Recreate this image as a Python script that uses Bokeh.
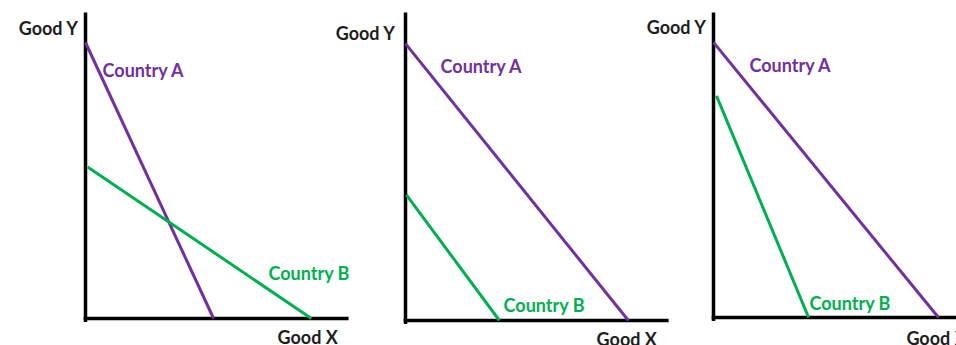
from bokeh.plotting import figure
from bokeh.models import Range1d
from bokeh.core.properties import value
from bokeh.embed import file_html
from bokeh.resources import INLINE

# ---- data (units, same scale in every panel) ----
panels = ["left", "middle", "right"]
a_y_intercept = [9.2, 9.23, 9.17]     # Country A: max Good Y
a_x_intercept = [4.27, 7.43, 7.5]     # Country A: max Good X
b_y_intercept = [5.1, 4.23, 7.63]     # Country B: max Good Y
b_x_intercept = [7.53, 3.13, 3.17]    # Country B: max Good X
axis_y_max = [10.2, 10.27, 10.17]
axis_x_max = [8.77, 8.77, 8.1]
series_names = ["Country A", "Country B"]
x_title = "Good X"
y_title = "Good Y"

# ---- layout / style ----
W, H = 956, 345
SCALE = 30.0                      # px per unit
origins = [(85, 318), (405, 320), (713, 317)]   # origin in canvas px
PURPLE = "#7030A0"
GREEN = "#00B050"
INK = "#1e1e1e"
FONT = value("Lato")
TEXT_LIFT = 0.2                   # baseline correction (units)

p = figure(width=W, height=H, output_backend="svg", toolbar_location=None,
           min_border=0, min_border_left=0, min_border_right=0,
           min_border_top=0, min_border_bottom=0)
p.axis.visible = False
p.grid.visible = False
p.outline_line_color = None
p.background_fill_color = "white"
p.border_fill_color = "white"

names = []
for i, (ox, oy) in enumerate(origins):
    xr = Range1d(-ox / SCALE, (W - ox) / SCALE)
    yr = Range1d(-(H - oy) / SCALE, oy / SCALE)
    xn, yn = f"x{i}", f"y{i}"
    p.extra_x_ranges[xn] = xr
    p.extra_y_ranges[yn] = yr
    names.append((xn, yn))
p.x_range = Range1d(p.extra_x_ranges["x0"].start, p.extra_x_ranges["x0"].end)
p.y_range = Range1d(p.extra_y_ranges["y0"].start, p.extra_y_ranges["y0"].end)

label_pos = [
    dict(a=(0.57, 8.07), b=(6.1, 1.33), gy=(-0.23, 9.5), gx=(6.4, -0.83)),
    dict(a=(1.17, 8.27), b=(3.27, 0.33), gy=(-0.33, 9.37), gx=(6.37, -0.8)),
    dict(a=(1.2, 8.23), b=(3.2, 0.3), gy=(-0.23, 9.47), gx=(6.43, -0.87)),
]
b_start = [0.07, 0.03, 0.1]


def label(x, y, txt, color, align, kw):
    p.text([x], [y + TEXT_LIFT], text=[txt], text_color=color,
           text_font=FONT, text_font_style="bold", text_font_size="18px",
           text_baseline="alphabetic", text_align=align, **kw)


for i, (xn, yn) in enumerate(names):
    kw = dict(x_range_name=xn, y_range_name=yn)
    # axes
    p.line([0, 0], [-0.12, axis_y_max[i]], line_color="black", line_width=3.5, **kw)
    p.line([-0.06, axis_x_max[i]], [0, 0], line_color="black", line_width=3.5, **kw)
    # PPF lines
    p.line([0, a_x_intercept[i]], [a_y_intercept[i], 0], line_color=PURPLE, line_width=3, **kw)
    bx0 = b_start[i]
    by0 = b_y_intercept[i] * (1 - bx0 / b_x_intercept[i])
    p.line([bx0, b_x_intercept[i]], [by0, 0], line_color=GREEN, line_width=3, **kw)
    lp = label_pos[i]
    label(*lp["a"], series_names[0], PURPLE, "left", kw)
    label(*lp["b"], series_names[1], GREEN, "left", kw)
    label(*lp["gy"], y_title, INK, "right", kw)
    label(*lp["gx"], x_title, INK, "left", kw)

open("out.html", "w").write(file_html(p, INLINE))
